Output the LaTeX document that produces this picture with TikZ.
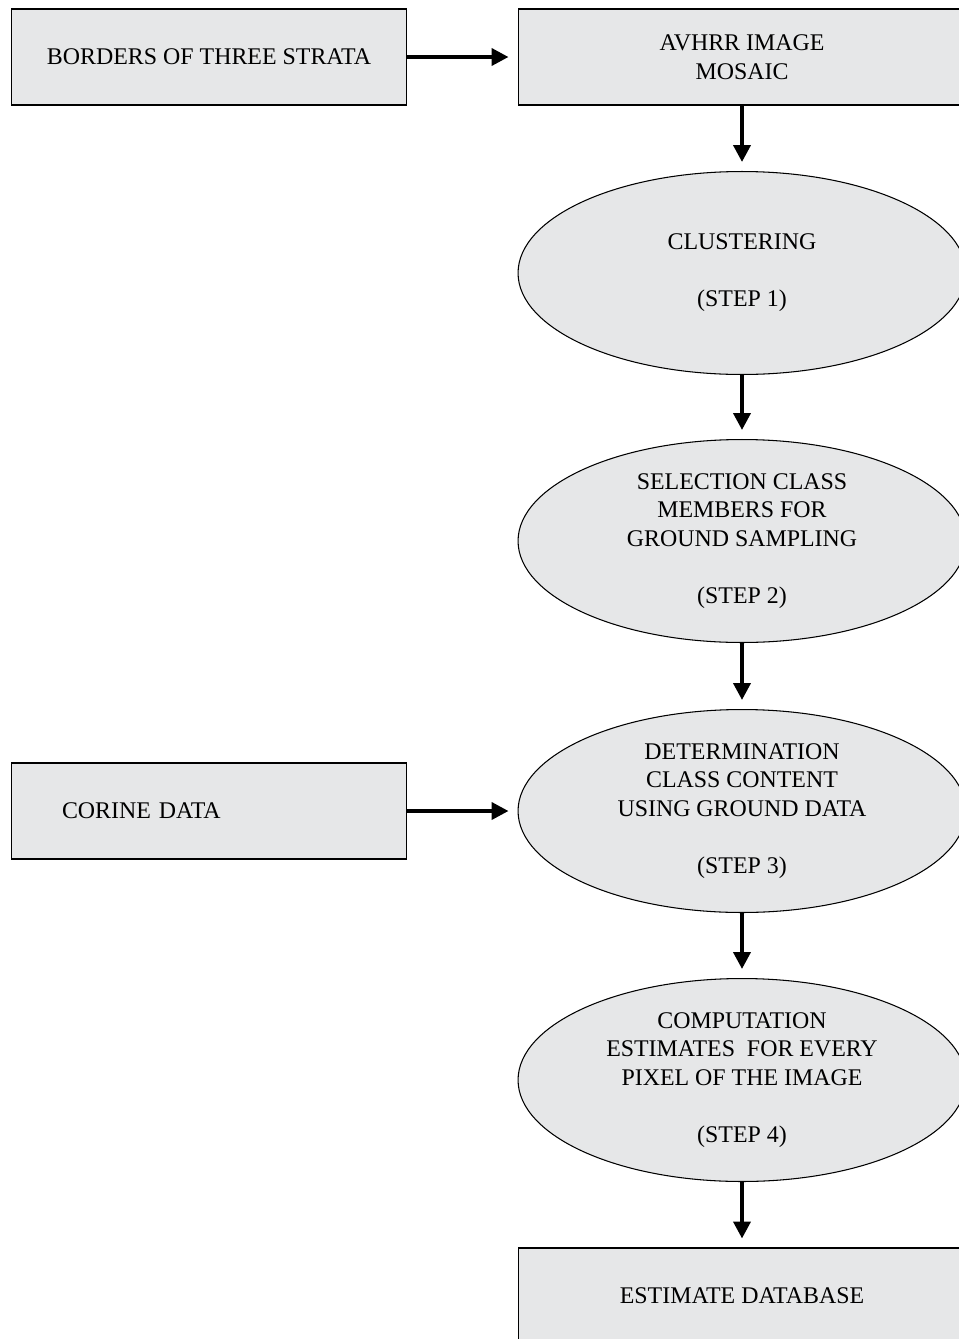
\documentclass[tikz,border=0pt]{standalone}
\usepackage{fontspec}
\setmainfont{Liberation Serif}
\usetikzlibrary{arrows.meta,shapes.geometric}
\definecolor{boxgray}{HTML}{E6E7E8}
\tikzset{
	box/.style={draw, fill=boxgray, line width=0.6pt, minimum width=7.92cm, minimum height=1.92cm, inner sep=0pt, align=center, font=\fontsize{13.6}{16.2}\selectfont},
	widebox/.style={box, minimum width=8.96cm},
	stepellipse/.style={ellipse, draw, fill=boxgray, line width=0.6pt, minimum width=8.96cm, minimum height=4.06cm, inner sep=0pt, align=center, font=\fontsize{13.6}{16.2}\selectfont},
	flow/.style={-{Triangle[length=0.34cm,width=0.34cm]}, line width=2.2pt, shorten >=0.18cm}
}
\begin{document}
\begin{tikzpicture}[x=0.02cm,y=-0.02cm]
	\useasboundingbox (0,0) rectangle (959,1339); %tamano de la figura
	\clip (0,0) rectangle (959,1339);
	\node[box] (borders) at (209,57) {BORDERS OF THREE STRATA}; %cajas de entrada
	\node[widebox] (avhrr) at (742,57) {AVHRR IMAGE\\MOSAIC};
	\node[box, text width=5.88cm, align=left] (corine) at (209,811) {CORINE DATA};
	\node[stepellipse] (clustering) at (742,273) {CLUSTERING\\\mbox{}\\(STEP 1)}; %pasos
	\node[stepellipse] (selection) at (742,541) {SELECTION CLASS\\MEMBERS FOR\\GROUND SAMPLING\\\mbox{}\\(STEP 2)};
	\node[stepellipse] (determination) at (742,811) {DETERMINATION\\CLASS CONTENT\\USING GROUND DATA\\\mbox{}\\(STEP 3)};
	\node[stepellipse] (computation) at (742,1080) {COMPUTATION\\ESTIMATES\ \ FOR EVERY\\PIXEL OF THE IMAGE\\\mbox{}\\(STEP 4)};
	\node[widebox] (estimate) at (742,1296) {ESTIMATE DATABASE}; %salida
	\draw[flow] (borders) -- (avhrr); %flechas
	\draw[flow] (avhrr) -- (clustering);
	\draw[flow] (clustering) -- (selection);
	\draw[flow] (selection) -- (determination);
	\draw[flow] (corine) -- (determination);
	\draw[flow] (determination) -- (computation);
	\draw[flow] (computation) -- (estimate);
\end{tikzpicture}
\end{document}
